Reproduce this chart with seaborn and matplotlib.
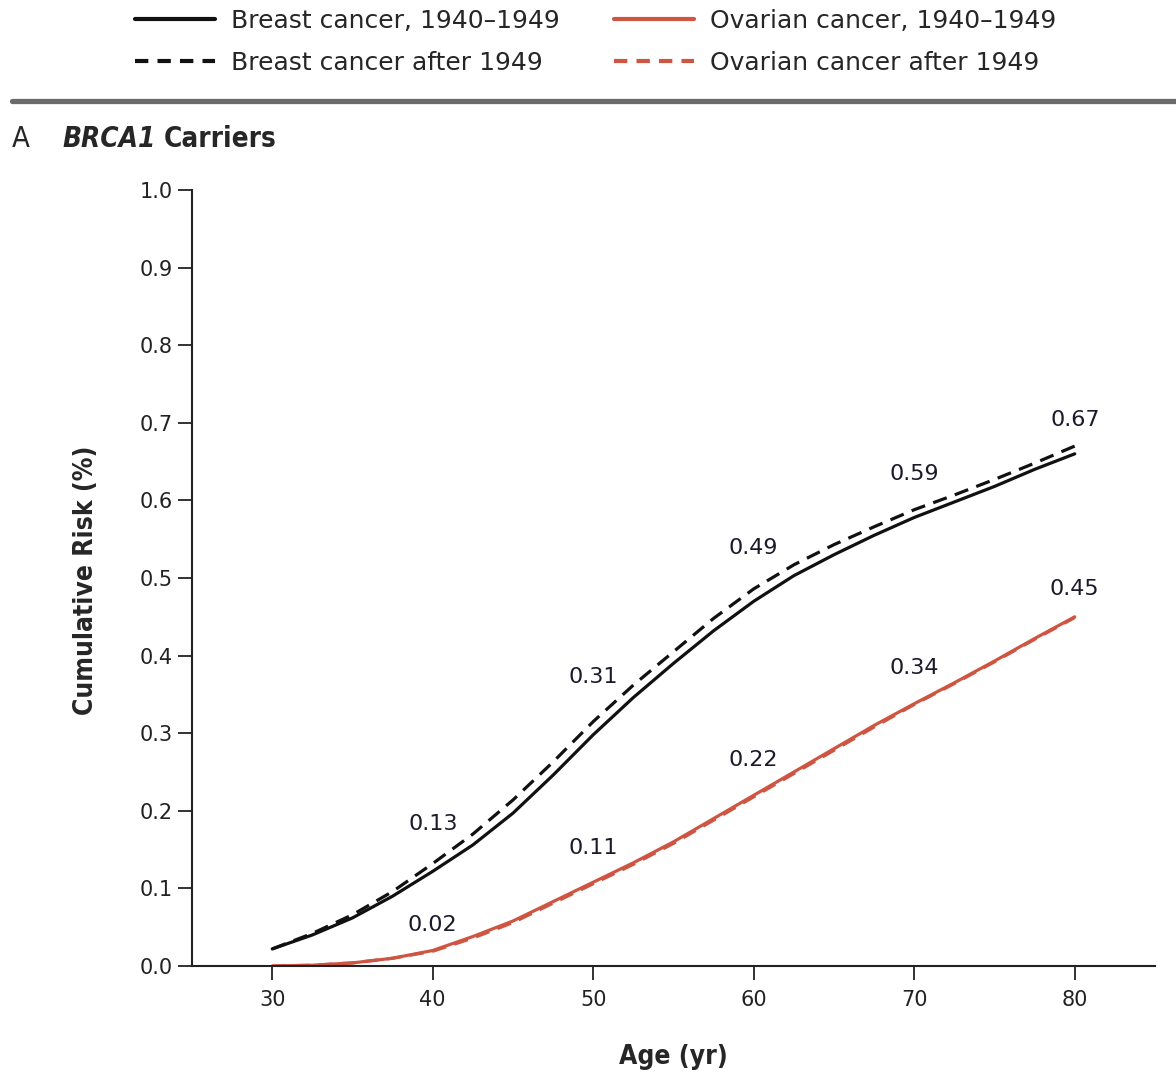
import matplotlib
matplotlib.use("Agg")
import matplotlib.pyplot as plt
from matplotlib.lines import Line2D
import seaborn as sns
import pandas as pd
import numpy as np

# ---------------- data ----------------
ages = [30, 32.5, 35, 37.5, 40, 42.5, 45, 47.5, 50, 52.5, 55, 57.5, 60,
        62.5, 65, 67.5, 70, 72.5, 75, 77.5, 80]
breast_1940s = [0.022, 0.040, 0.062, 0.090, 0.122, 0.156, 0.197, 0.246, 0.298,
                0.346, 0.390, 0.432, 0.470, 0.503, 0.530, 0.555, 0.578, 0.598,
                0.618, 0.640, 0.660]
breast_after = [0.022, 0.042, 0.066, 0.096, 0.132, 0.170, 0.214, 0.263, 0.315,
                0.362, 0.405, 0.448, 0.486, 0.517, 0.543, 0.566, 0.588, 0.607,
                0.627, 0.648, 0.670]
ovarian_1940s = [0.000, 0.001, 0.004, 0.010, 0.020, 0.038, 0.058, 0.083, 0.108,
                 0.133, 0.160, 0.190, 0.220, 0.250, 0.280, 0.310, 0.338, 0.365,
                 0.393, 0.422, 0.450]
ovarian_after = [0.000, 0.001, 0.004, 0.010, 0.019, 0.036, 0.056, 0.081, 0.106,
                 0.131, 0.158, 0.188, 0.218, 0.248, 0.278, 0.308, 0.337, 0.364,
                 0.392, 0.421, 0.449]

label_ages = [40, 50, 60, 70, 80]
breast_labels = [0.13, 0.31, 0.49, 0.59, 0.67]
ovarian_labels = [0.02, 0.11, 0.22, 0.34, 0.45]

x_ticks = [30, 40, 50, 60, 70, 80]
y_ticks = [0.0, 0.1, 0.2, 0.3, 0.4, 0.5, 0.6, 0.7, 0.8, 0.9, 1.0]

legend_labels = ["Breast cancer, 1940\u20131949", "Breast cancer after 1949",
                 "Ovarian cancer, 1940\u20131949", "Ovarian cancer after 1949"]

# ---------------- style ----------------
RED = "#cd5541"
BLACK = "#111111"
sns.set_style("ticks")
plt.rcParams["font.family"] = ["DejaVu Sans"]

rows = []
for a, b1, b2, o1, o2 in zip(ages, breast_1940s, breast_after, ovarian_1940s, ovarian_after):
    rows.append(dict(age=a, risk=b1, cancer="Breast", period="1940-1949"))
    rows.append(dict(age=a, risk=b2, cancer="Breast", period="after 1949"))
    rows.append(dict(age=a, risk=o1, cancer="Ovarian", period="1940-1949"))
    rows.append(dict(age=a, risk=o2, cancer="Ovarian", period="after 1949"))
df = pd.DataFrame(rows)

W, H = 1176, 1074
fig = plt.figure(figsize=(W / 100, H / 100), dpi=100)
ax = fig.add_axes([192 / W, 1 - 966 / H, (1155 - 192) / W, (966 - 190) / H])

sns.lineplot(data=df, x="age", y="risk", hue="cancer", style="period",
             palette={"Breast": BLACK, "Ovarian": RED},
             dashes={"1940-1949": "", "after 1949": (4.5, 2.7)},
             linewidth=2.3, legend=False, ax=ax, estimator=None)

ax.set_xlim(25, 85)
ax.set_ylim(0, 1.0)
ax.set_xticks(x_ticks)
ax.set_yticks(y_ticks)
ax.set_xticklabels([str(t) for t in x_ticks])
ax.set_yticklabels([f"{t:.1f}" for t in y_ticks])
ax.tick_params(axis="both", direction="out", length=10, width=1.3,
               labelsize=15, colors="#222222", pad=4)
ax.tick_params(axis="x", pad=7.5)
for s in ["top", "right"]:
    ax.spines[s].set_visible(False)
for s in ["left", "bottom"]:
    ax.spines[s].set_linewidth(1.5)
    ax.spines[s].set_color("#222222")

ax.set_xlabel("Age (yr)", fontsize=19, fontweight="bold", fontstretch="condensed")
ax.set_ylabel("Cumulative Risk (%)", fontsize=19, fontweight="bold", fontstretch="condensed")
ax.xaxis.set_label_coords((673 - 192) / 963, -0.1)
ax.yaxis.set_label_coords(-0.097, 0.497)

# value annotations
breast_off = [41, 48, 38, 34, 26]
ovarian_off = [25, 33, 35, 34, 28]
for a, v, o in zip(label_ages, breast_labels, breast_off):
    ax.annotate(f"{v:.2f}", xy=(a, v), xytext=(0, o * 0.72), textcoords="offset points",
                ha="center", va="center", fontsize=16, color="#1a1a2a")
for a, v, o in zip(label_ages, ovarian_labels, ovarian_off):
    ax.annotate(f"{v:.2f}", xy=(a, v), xytext=(0, o * 0.72), textcoords="offset points",
                ha="center", va="center", fontsize=16, color="#1a1a2a")

# legend at top
handles = [
    Line2D([], [], color=BLACK, lw=3, ls="-"),
    Line2D([], [], color=BLACK, lw=3, dashes=(3.2, 2.2)),
    Line2D([], [], color=RED, lw=3, ls="-"),
    Line2D([], [], color=RED, lw=3, dashes=(3.2, 2.2)),
]
fig.legend(handles, legend_labels, loc="upper left", ncol=2,
           bbox_to_anchor=(130 / W, 1 - 4 / H), frameon=False,
           fontsize=18, handlelength=3.2, handletextpad=0.65,
           columnspacing=2.15, labelspacing=0.72, borderaxespad=0, borderpad=0.2)

# grey rule
fig.add_artist(Line2D([12 / W, 1.0], [1 - 101 / H, 1 - 101 / H],
                      transform=fig.transFigure, color="#6b6b6b", lw=3.8))

# panel title
tA = fig.text(12 / W, 1 - 139 / H, "A", fontsize=21, va="center", ha="left",
              fontstretch="condensed")
tB = fig.text(62 / W, 1 - 139 / H, "BRCA1", fontsize=20, va="center", ha="left",
              fontweight="bold", fontstyle="italic", fontstretch="condensed")
fig.canvas.draw()
bb = tB.get_window_extent()
fig.text((bb.x1 + 8) / W, 1 - 139 / H, "Carriers", fontsize=20, va="center",
         ha="left", fontweight="bold", fontstretch="condensed")

fig.savefig("out.png", dpi=100)
